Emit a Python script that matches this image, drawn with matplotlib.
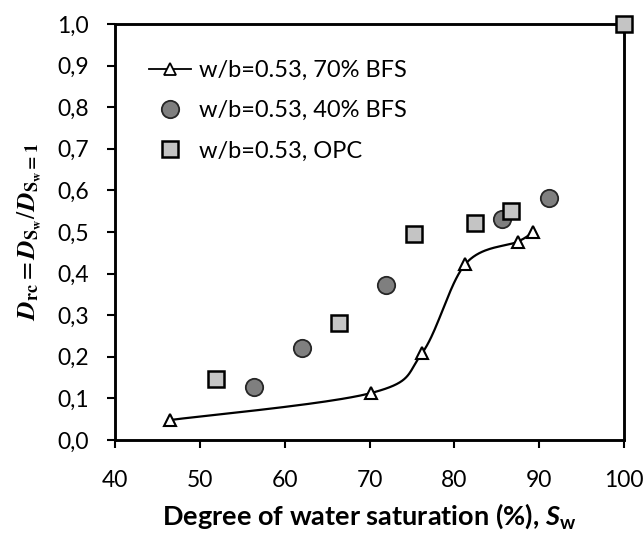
import matplotlib.pyplot as plt
import numpy as np
from matplotlib.patches import Rectangle
from matplotlib.ticker import FuncFormatter, MultipleLocator

plt.rcParams['font.family'] = ['Lato', 'DejaVu Sans']
plt.rcParams['mathtext.fontset'] = 'custom'
plt.rcParams['mathtext.bf'] = 'Lato:bold'
plt.rcParams['mathtext.bfit'] = 'Lato:italic:bold'
plt.rcParams['mathtext.it'] = 'Lato:italic:bold'

# data
sw_bfs70 = [46.5, 70.2, 76.2, 81.3, 87.5, 89.3]
d_bfs70 = [0.048, 0.113, 0.209, 0.423, 0.477, 0.501]
sw_bfs40 = [56.4, 62.0, 72.0, 85.6, 91.1]
d_bfs40 = [0.127, 0.221, 0.373, 0.531, 0.581]
sw_opc = [51.9, 66.4, 75.2, 82.4, 86.7, 100.0]
d_opc = [0.147, 0.281, 0.495, 0.522, 0.550, 1.0]
labels = ['w/b=0.53, 70% BFS', 'w/b=0.53, 40% BFS', 'w/b=0.53, OPC']


def smooth(xs, ys, n=40):
    # excel-like smoothed line (catmull-rom as bezier)
    p = np.column_stack([xs, ys])
    p = np.vstack([p[0], p, p[-1]])
    out = []
    for i in range(1, len(p) - 2):
        p0, p1, p2, p3 = p[i - 1], p[i], p[i + 1], p[i + 2]
        c1 = p1 + (p2 - p0) / 6
        c2 = p2 - (p3 - p1) / 6
        t = np.linspace(0, 1, n)[:, None]
        seg = (1 - t) ** 3 * p1 + 3 * (1 - t) ** 2 * t * c1 + 3 * (1 - t) * t ** 2 * c2 + t ** 3 * p2
        out.append(seg)
    out = np.vstack(out)
    return out[:, 0], out[:, 1]


fig = plt.figure(figsize=(6.44, 5.33), dpi=100)
ax = fig.add_axes([0.1786, 0.1745, 0.969 - 0.1786, 0.955 - 0.1745])

cx, cy = smooth(sw_bfs70, d_bfs70)
ax.plot(cx, cy, color='black', lw=1.6, zorder=2)
ax.plot(sw_bfs70, d_bfs70, ls='none', marker='^', ms=8.5, mfc='white', mec='black', mew=1.5, zorder=3)
ax.plot(sw_bfs40, d_bfs40, ls='none', marker='o', ms=12.5, mfc='#7f7f7f', mec='#262626', mew=1.3, zorder=3)
ax.plot(sw_opc, d_opc, ls='none', marker='s', ms=11.5, mfc='#c4c4c4', mec='black', mew=1.8, zorder=6, clip_on=False)

h1 = plt.Line2D([], [], color='black', lw=1.3, marker='^', ms=8.5, mfc='white', mec='black', mew=1.3)
h2 = plt.Line2D([], [], ls='none', marker='o', ms=12.5, mfc='#7f7f7f', mec='#262626', mew=1.3)
h3 = plt.Line2D([], [], ls='none', marker='s', ms=11.5, mfc='#c4c4c4', mec='black', mew=1.8)
ax.legend([h1, h2, h3], labels, loc='upper left', bbox_to_anchor=(0.025, 0.965), frameon=False,
          fontsize=17, handlelength=1.8, handletextpad=0.3, labelspacing=0.82, borderpad=0.4)

ax.set_xlim(40, 100)
ax.set_ylim(0, 1.0)
ax.xaxis.set_major_locator(MultipleLocator(10))
ax.yaxis.set_major_locator(MultipleLocator(0.1))
ax.yaxis.set_major_formatter(FuncFormatter(lambda v, p: ('%.1f' % v).replace('.', ',')))
ax.tick_params(direction='out', length=6, width=1.5, labelsize=16.5, color='black')
ax.tick_params(axis='x', pad=15.5)
ax.tick_params(axis='y', pad=13)
for s in ax.spines.values():
    s.set_visible(True)
    s.set_linewidth(1.8)
    s.set_color('black')
# plot-area border
ax.add_patch(Rectangle((0, 0), 1, 1, transform=ax.transAxes, fill=False, ec='black', lw=1.8,
                       clip_on=False, zorder=5))

ax.set_xlabel(r'Degree of water saturation (%), $\boldsymbol{S}_{\mathbf{w}}$', fontsize=19.5,
              fontweight='bold', labelpad=8)
ax.set_ylabel(r'$\boldsymbol{D}_{\mathbf{rc}}=\boldsymbol{D}_{\mathbf{S_w}}/\boldsymbol{D}_{\mathbf{S_w=1}}$',
              fontsize=18.5, math_fontfamily='stix', labelpad=9)

fig.savefig('out.png', dpi=100)
